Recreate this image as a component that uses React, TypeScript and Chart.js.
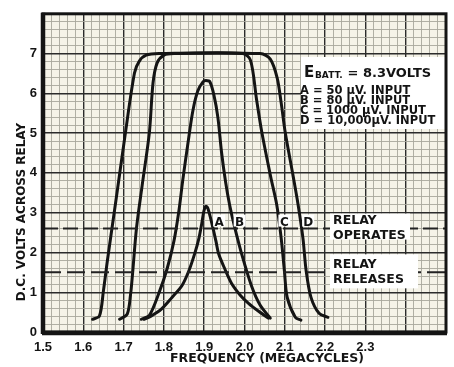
import React, { useEffect, useRef } from "react";
import { Chart, registerables } from "chart.js";

Chart.register(...registerables);

// ---- data ----
const xTickLabels = ["1.5", "1.6", "1.7", "1.8", "1.9", "2.0", "2.1", "2.2", "2.3"];
const yTickLabels = ["0", "1", "2", "3", "4", "5", "6", "7"];

// Curve A: 50 µV input
const curveAFreq = [1.751, 1.768, 1.793, 1.82, 1.845, 1.862, 1.877, 1.887, 1.894, 1.899, 1.904, 1.909, 1.919, 1.929, 1.936, 1.951, 1.968, 1.99, 2.01, 2.035, 2.059];
const curveAVolts = [0.32, 0.4, 0.57, 0.87, 1.17, 1.54, 1.99, 2.36, 2.73, 3.03, 3.16, 3.11, 2.73, 2.29, 1.96, 1.59, 1.22, 0.92, 0.72, 0.52, 0.35];

// Curve B: 80 µV input
const curveBFreq = [1.744, 1.764, 1.788, 1.808, 1.825, 1.837, 1.847, 1.86, 1.872, 1.884, 1.897, 1.904, 1.914, 1.924, 1.934, 1.943, 1.953, 1.963, 1.975, 1.993, 2.017, 2.039, 2.064];
const curveBVolts = [0.32, 0.42, 0.99, 1.59, 2.29, 3.03, 3.83, 4.77, 5.57, 6.06, 6.29, 6.32, 6.29, 5.96, 5.39, 4.52, 3.78, 3.2, 2.66, 1.96, 1.17, 0.67, 0.35];

// Curve C: 1000 µV input
const curveCFreq = [1.69, 1.709, 1.717, 1.722, 1.732, 1.746, 1.764, 1.773, 1.783, 1.8, 1.825, 1.995, 2.015, 2.03, 2.043, 2.065, 2.08, 2.091, 2.099, 2.106, 2.126, 2.14];
const curveCVolts = [0.32, 0.45, 0.92, 1.44, 2.61, 3.68, 5.02, 6.26, 6.76, 6.96, 7.0, 7.0, 6.83, 5.84, 5.02, 3.9, 3.2, 2.36, 1.54, 0.87, 0.37, 0.3];

// Curve D: 10,000 µV input
const curveDFreq = [1.623, 1.64, 1.65, 1.66, 1.682, 1.704, 1.727, 1.739, 1.756, 1.788, 2.039, 2.064, 2.081, 2.091, 2.101, 2.121, 2.133, 2.145, 2.153, 2.165, 2.185, 2.207];
const curveDVolts = [0.32, 0.4, 1.04, 1.81, 3.38, 4.97, 6.51, 6.81, 6.96, 7.0, 7.0, 6.86, 6.39, 5.76, 5.02, 3.9, 3.2, 2.36, 1.54, 0.87, 0.47, 0.37];

const relayOperatesVolts = 2.6;
const relayReleasesVolts = 1.5;

const curveLetters = ["A", "B", "C", "D"];
const legendLines = ["A = 50 µV. INPUT", "B = 80 µV. INPUT", "C = 1000 µV. INPUT", "D = 10,000µV. INPUT"];
const battLabel = ["E", "BATT.", " = 8.3VOLTS"];
const xTitle = "FREQUENCY (MEGACYCLES)";
const yTitle = "D.C. VOLTS ACROSS RELAY";

// ---- helpers ----
const toPoints = (xs: number[], ys: number[]) => xs.map((x, i) => ({ x, y: ys[i] }));
const isMajorX = (v: number) => Math.abs(v * 10 - Math.round(v * 10)) < 1e-6;
const isMajorY = (v: number) => Math.abs(v - Math.round(v)) < 1e-6;

const INK = "#141414";
const BOLD = "bold";
const TICKFONT = '"Liberation Sans", Arial, sans-serif';
const WIDE = '"DejaVu Sans", "Liberation Sans", sans-serif';

const decorPlugin = {
  id: "decor",
  beforeDraw(chart: any) {
    const { ctx, chartArea: a } = chart;
    ctx.save();
    ctx.fillStyle = "#ffffff";
    ctx.fillRect(0, 0, chart.width, chart.height);
    ctx.fillStyle = "#f5f3e8";
    ctx.fillRect(a.left, a.top, a.right - a.left, a.bottom - a.top);
    ctx.restore();
  },
  afterDatasetsDraw(chart: any) {
    const { ctx, chartArea: a, scales } = chart;
    const xs = scales.x;
    const ys = scales.y;
    ctx.save();
    ctx.fillStyle = INK;
    ctx.textBaseline = "alphabetic";
    ctx.textAlign = "left";

    // legend box
    ctx.fillStyle = "#ffffff";
    ctx.fillRect(301, 57, a.right - 301, 72);
    ctx.fillStyle = INK;
    ctx.font = `${BOLD} 15px ${WIDE}`;
    ctx.fillText(battLabel[0], 304, 77);
    ctx.font = `${BOLD} 9px ${WIDE}`;
    ctx.fillText(battLabel[1], 315, 78);
    ctx.font = `${BOLD} 13px ${WIDE}`;
    ctx.fillText(battLabel[2], 343, 77);
    ctx.font = `${BOLD} 11.5px ${WIDE}`;
    legendLines.forEach((t, i) => ctx.fillText(t, 300, 94 + i * 10));

    // relay labels
    const yo = ys.getPixelForValue(relayOperatesVolts);
    const yr = ys.getPixelForValue(relayReleasesVolts);
    ctx.fillStyle = "#ffffff";
    ctx.fillRect(330, yo - 15, 80, 26);
    ctx.fillRect(330, yr - 18, 88, 34);
    ctx.fillStyle = INK;
    ctx.font = `${BOLD} 12.5px ${WIDE}`;
    ctx.fillText("RELAY", 333, yo - 5);
    ctx.fillText("OPERATES", 333, yo + 10);
    ctx.fillText("RELAY", 333, yr - 4);
    ctx.fillText("RELEASES", 333, yr + 11);

    // curve letters on the operate line
    const letterFreqs = [1.937, 1.988, 2.099, 2.158];
    ctx.font = `${BOLD} 12px ${WIDE}`;
    ctx.textAlign = "center";
    curveLetters.forEach((l, i) => {
      const px = xs.getPixelForValue(letterFreqs[i]);
      ctx.fillStyle = "#ffffff";
      ctx.fillRect(px - 6, yo - 14, 12, 12);
      ctx.fillStyle = INK;
      ctx.fillText(l, px, yo - 3);
    });

    // frame
    ctx.strokeStyle = INK;
    ctx.lineWidth = 3;
    ctx.strokeRect(a.left, a.top, a.right - a.left, a.bottom - a.top);
    ctx.lineWidth = 4.5;
    ctx.beginPath();
    ctx.moveTo(a.left - 1, a.bottom + 1);
    ctx.lineTo(a.right + 1, a.bottom + 1);
    ctx.moveTo(a.left, a.top - 1);
    ctx.lineTo(a.left, a.bottom + 2);
    ctx.stroke();

    // axis titles
    ctx.fillStyle = INK;
    ctx.textAlign = "center";
    ctx.textBaseline = "middle";
    ctx.font = `${BOLD} 12.5px ${WIDE}`;
    ctx.fillText(xTitle, 267, 359);
    ctx.save();
    ctx.translate(22, 212);
    ctx.rotate(-Math.PI / 2);
    ctx.font = `${BOLD} 12px ${WIDE}`;
    ctx.fillText(yTitle, 0, 0);
    ctx.restore();

    ctx.restore();
  },
};

export default function App() {
  const ref = useRef<HTMLCanvasElement | null>(null);

  useEffect(() => {
    document.body.style.margin = "0";
    const canvas = ref.current;
    if (!canvas) return;

    const curve = (xs: number[], ys: number[], label: string) => ({
      label,
      data: toPoints(xs, ys),
      showLine: true,
      borderColor: INK,
      backgroundColor: INK,
      borderWidth: 3,
      pointRadius: 0,
      tension: 0.3,
      borderCapStyle: "round" as const,
      borderJoinStyle: "round" as const,
    });

    const level = (v: number, label: string, dash: number[]) => ({
      label,
      data: [
        { x: 1.5, y: v },
        { x: 2.5, y: v },
      ],
      showLine: true,
      borderColor: "#222222",
      borderWidth: 2,
      borderDash: dash,
      pointRadius: 0,
    });

    const chart = new Chart(canvas, {
      type: "scatter",
      data: {
        datasets: [
          level(relayOperatesVolts, "Relay operates", [15, 5]),
          level(relayReleasesVolts, "Relay releases", [18, 6]),
          curve(curveAFreq, curveAVolts, "A"),
          curve(curveBFreq, curveBVolts, "B"),
          curve(curveCFreq, curveCVolts, "C"),
          curve(curveDFreq, curveDVolts, "D"),
        ],
      },
      options: {
        animation: false,
        responsive: false,
        layout: { padding: { top: 10, right: 5, left: 0, bottom: 0 } },
        plugins: {
          legend: { display: false },
          tooltip: { enabled: false },
        },
        scales: {
          x: {
            type: "linear",
            min: 1.5,
            max: 2.5,
            afterFit: (s: any) => {
              s.height = 35;
            },
            ticks: {
              stepSize: 0.02,
              autoSkip: false,
              maxRotation: 0,
              padding: 8,
              color: INK,
              font: { family: TICKFONT, weight: "bold", size: 13 },
              callback: (v: any) => {
                const n = Number(v);
                if (!isMajorX(n)) return "";
                const i = Math.round((n - 1.5) * 10);
                return xTickLabels[i] ?? "";
              },
            },
            grid: {
              drawTicks: false,
              color: (c: any) => (isMajorX(c.tick.value) ? "#2b2b2b" : "#a8a79c"),
              lineWidth: (c: any) => (isMajorX(c.tick.value) ? 1.4 : 0.9),
            },
            border: { display: false },
          },
          y: {
            type: "linear",
            min: 0,
            max: 8,
            afterFit: (s: any) => {
              s.width = 43;
            },
            ticks: {
              stepSize: 0.2,
              autoSkip: false,
              padding: 6,
              color: INK,
              font: { family: TICKFONT, weight: "bold", size: 13 },
              callback: (v: any) => {
                const n = Number(v);
                if (!isMajorY(n)) return "";
                return yTickLabels[Math.round(n)] ?? "";
              },
            },
            grid: {
              drawTicks: false,
              color: (c: any) => (isMajorY(c.tick.value) ? "#2b2b2b" : "#a8a79c"),
              lineWidth: (c: any) => (isMajorY(c.tick.value) ? 1.4 : 0.9),
            },
            border: { display: false },
          },
        },
      },
      plugins: [decorPlugin],
    });

    return () => chart.destroy();
  }, []);

  return (
    <div style={{ position: "absolute", left: 0, top: 0, width: 454, height: 367 }}>
      <canvas ref={ref} width={454} height={367} />
    </div>
  );
}
